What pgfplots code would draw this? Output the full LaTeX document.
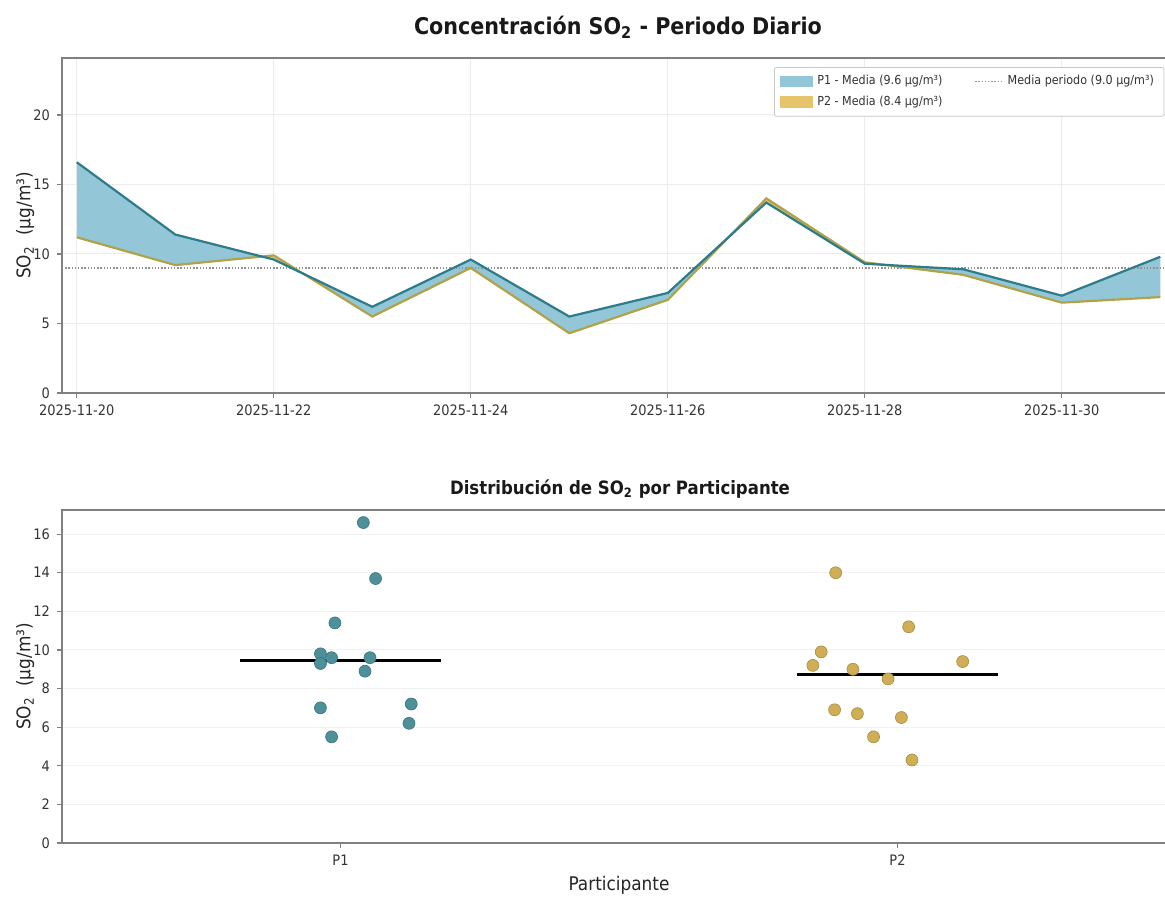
\documentclass[border=0pt]{standalone}
\usepackage{pgfplots}
\pgfplotsset{compat=1.18}
\usepgfplotslibrary{fillbetween}
\usepackage{pgfplotstable}
\usepackage{fontspec}
\setmainfont{DejaVu Sans Condensed}

\definecolor{ponefill}{HTML}{93C6D6}
\definecolor{poneline}{HTML}{2C7C8C}
\definecolor{ptwofill}{HTML}{E6C46C}
\definecolor{ptwoline}{HTML}{B0A248}
\definecolor{ponedot}{HTML}{4D9099}
\definecolor{ptwodot}{HTML}{CFAE55}
\definecolor{spine}{HTML}{808080}

% daily SO2 means per participant (day 0 = 2025-11-20)
\pgfplotstableread{
day p1 p2
0 16.6 11.2
1 11.4 9.2
2 9.6 9.9
3 6.2 5.5
4 9.6 9.0
5 5.5 4.3
6 7.2 6.7
7 13.7 14.0
8 9.3 9.4
9 8.9 8.5
10 7.0 6.5
11 9.8 6.9
}\daily

% strip plot, P1 at x=0 with jitter
\pgfplotstableread{
x y
0.041 16.6
0.063 13.7
-0.010 11.4
-0.036 9.8
-0.016 9.6
-0.036 9.3
0.053 9.6
0.044 8.9
-0.036 7.0
0.127 7.2
0.123 6.2
-0.016 5.5
}\pone

% strip plot, P2 at x=1 with jitter
\pgfplotstableread{
x y
0.889 14.0
1.020 11.2
0.863 9.9
0.848 9.2
0.920 9.0
1.117 9.4
0.983 8.5
0.887 6.9
0.928 6.7
1.007 6.5
0.957 5.5
1.026 4.3
}\ptwo

\pgfplotsset{
  common/.style={
    scale only axis,
    axis line style={spine, line width=0.9pt},
    tick style={spine, line width=0.6pt},
    tick align=outside,
    major tick length=2.5pt,
    tick pos=left,
    tick label style={font=\fontsize{7.2}{8}\selectfont, text=black!80},
    /pgf/number format/assume math mode=true,
    label style={font=\fontsize{9.4}{11}\selectfont, text=black!85},
  },
}

\begin{document}
\begin{tikzpicture}

\node[font=\bfseries\fontsize{11.5}{13}\selectfont, text=black!90] at (309pt,-13.5pt)
  {Concentración SO\textsubscript{2} - Periodo Diario};

\begin{axis}[common,
  at={(31pt,-29pt)}, anchor=north west,
  width=559pt, height=167.5pt,
  xmin=-0.15, xmax=11.2, ymin=0, ymax=24.1,
  xtick={0,2,4,6,8,10},
  xticklabels={2025-11-20,2025-11-22,2025-11-24,2025-11-26,2025-11-28,2025-11-30},
  ytick={0,5,10,15,20},
  grid=major, major grid style={gray!15, line width=0.5pt},
  ylabel={SO\textsubscript{2}\ \ (µg/m³)},
  ylabel style={at={(axis description cs:-0.033,0.5)}, anchor=center},
  legend style={at={(0.986,0.973)}, anchor=north east, draw=gray!45,
    fill=white, rounded corners=1pt, inner xsep=3pt, inner ysep=2pt,
    font=\fontsize{6.2}{7}\selectfont, text=black!80,
    /tikz/every even column/.append style={column sep=14pt}},
  legend columns=2, legend cell align=left,
]
\addlegendimage{legend image code/.code={\fill[ponefill, sharp corners] (0pt,-2.6pt) rectangle (16pt,2.6pt);}}
\addlegendentry{P1 - Media (9.6 µg/m³)}
\addlegendimage{legend image code/.code={\draw[gray!85, dash pattern=on 0.7pt off 0.9pt, line width=0.6pt] (0pt,0pt) -- (14pt,0pt);}}
\addlegendentry{Media periodo (9.0 µg/m³)}
\addlegendimage{legend image code/.code={\fill[ptwofill, sharp corners] (0pt,-2.6pt) rectangle (16pt,2.6pt);}}
\addlegendentry{P2 - Media (8.4 µg/m³)}

\addplot[draw=none, name path=A, forget plot] table[x=day, y=p1] {\daily};
\addplot[draw=none, name path=B, forget plot] table[x=day, y=p2] {\daily};
\addplot[fill=ponefill, forget plot] fill between[of=A and B, split,
  every segment no 1/.style={fill=ptwofill},
  every segment no 3/.style={fill=ptwofill}];
\addplot[gray!85, dash pattern=on 0.7pt off 0.9pt, line width=0.7pt, forget plot]
  coordinates {(-0.15,9.0) (11.2,9.0)};
\addplot[ptwoline, line width=1.1pt, forget plot] table[x=day, y=p2] {\daily};
\addplot[poneline, line width=1.1pt, forget plot] table[x=day, y=p1] {\daily};
\end{axis}

\node[font=\bfseries\fontsize{9.2}{11}\selectfont, text=black!90] at (310pt,-244.5pt)
  {Distribución de SO\textsubscript{2} por Participante};

\begin{axis}[common,
  at={(31pt,-255pt)}, anchor=north west,
  width=557pt, height=166.5pt,
  xmin=-0.5, xmax=1.5, ymin=0, ymax=17.25,
  xtick={0,1}, xticklabels={P1,P2},
  ytick={0,2,...,16},
  ymajorgrids, major grid style={gray!10, line width=0.5pt},
  ylabel={SO\textsubscript{2}\ \ (µg/m³)},
  ylabel style={at={(axis description cs:-0.033,0.5)}, anchor=center},
  xlabel={Participante},
  xlabel style={at={(axis description cs:0.5,0)}, anchor=center, yshift=-21pt},
]
\addplot[only marks, mark=*, mark size=3pt,
  mark options={fill=ponedot, draw=ponedot!80!black, line width=0.3pt}]
  table[x=x, y=y] {\pone};
\addplot[only marks, mark=*, mark size=3pt,
  mark options={fill=ptwodot, draw=ptwodot!80!black, line width=0.3pt}]
  table[x=x, y=y] {\ptwo};
\addplot[black, line width=1.5pt] coordinates {(-0.18,9.45) (0.18,9.45)};
\addplot[black, line width=1.5pt] coordinates {(0.82,8.75) (1.18,8.75)};
\end{axis}

% page frame
\pgfresetboundingbox
\path[use as bounding box] (0pt,0pt) rectangle (582.5pt,-449pt);
\end{tikzpicture}
\end{document}
